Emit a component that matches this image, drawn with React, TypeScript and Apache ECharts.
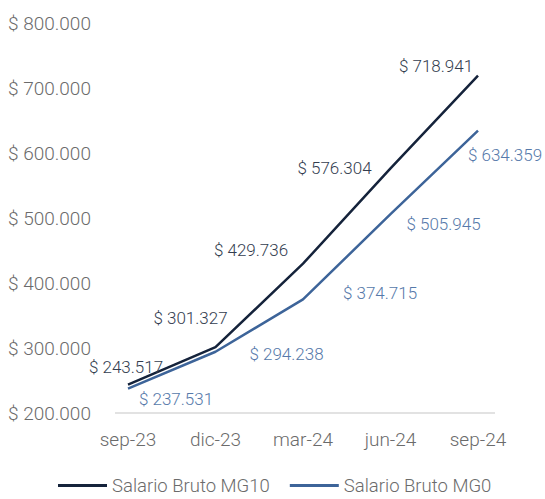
import React, { useEffect, useRef } from "react";
import * as echarts from "echarts";

const categories = ["sep-23", "dic-23", "mar-24", "jun-24", "sep-24"];
const mg10 = [243517, 301327, 429736, 576304, 718941];
const mg0 = [237531, 294238, 374715, 505945, 634359];
const mg10Offsets = [[-2, -18], [-25, -29], [-52, -14], [-56, 0], [-42, -10]];
const mg0Offsets = [[48, 10], [71, 2], [77, -6], [53, 10], [27, 24]];

const fmt = (v: number) => "$ " + Math.round(v).toString().replace(/\B(?=(\d{3})+(?!\d))/g, ".");

export default function App() {
  const ref = useRef<HTMLDivElement>(null);
  useEffect(() => {
    if (!ref.current) return;
    const chart = echarts.init(ref.current, undefined, { renderer: "svg" });
    const font = "Roboto";
    chart.setOption({
      animation: false,
      backgroundColor: "#ffffff",
      grid: { left: 128, right: 67, top: 23, bottom: 86 },
      legend: {
        left: 53,
        top: 471,
        itemWidth: 49,
        itemHeight: 3,
        itemGap: 20,
        icon: "rect",
        textStyle: { fontFamily: font, fontWeight: 300, fontSize: 18.5, lineHeight: 17, color: "#6b6b6b" },
        data: ["Salario Bruto MG10", "Salario Bruto MG0"],
      },
      graphic: [
        { type: "line", shape: { x1: 115, y1: 413, x2: 495, y2: 413 }, style: { stroke: "#d9d9d9", lineWidth: 1.5 } },
      ],
      xAxis: {
        type: "category",
        data: categories,
        boundaryGap: false,
        axisLine: { show: false },
        axisTick: { show: false },
        axisLabel: { fontFamily: font, fontWeight: 300, fontSize: 19, color: "#6b6b6b", margin: 17 },
        splitLine: { show: false },
      },
      yAxis: {
        type: "value",
        min: 200000,
        max: 800000,
        interval: 100000,
        axisLine: { show: false },
        axisTick: { show: false },
        splitLine: { show: false },
        axisLabel: {
          fontFamily: font,
          fontWeight: 300,
          fontSize: 19,
          color: "#6b6b6b",
          align: "left",
          margin: 120,
          formatter: (v: number) => fmt(v),
        },
      },
      series: [
        {
          name: "Salario Bruto MG10",
          type: "line",
          data: mg10.map((v, i) => ({ value: v, label: { offset: mg10Offsets[i] } })),
          symbol: "circle",
          symbolSize: 0,
          showSymbol: true,
          lineStyle: { color: "#15233b", width: 2.5 },
          itemStyle: { color: "#15233b" },
          label: {
            show: true,
            position: "inside",
            fontFamily: font,
            fontWeight: 300,
            fontSize: 17,
            color: "#333d4f",
            formatter: (p: any) => fmt(p.value),
          },
          z: 3,
        },
        {
          name: "Salario Bruto MG0",
          type: "line",
          data: mg0.map((v, i) => ({ value: v, label: { offset: mg0Offsets[i] } })),
          symbol: "circle",
          symbolSize: 0,
          showSymbol: true,
          lineStyle: { color: "#3d6499", width: 2.5 },
          itemStyle: { color: "#3d6499" },
          label: {
            show: true,
            position: "inside",
            fontFamily: font,
            fontWeight: 300,
            fontSize: 17,
            color: "#5679aa",
            formatter: (p: any) => fmt(p.value),
          },
          z: 2,
        },
      ],
    });
    return () => chart.dispose();
  }, []);
  return <div ref={ref} style={{ position: "fixed", left: 0, top: 0, width: 545, height: 499, background: "#fff" }} />;
}
